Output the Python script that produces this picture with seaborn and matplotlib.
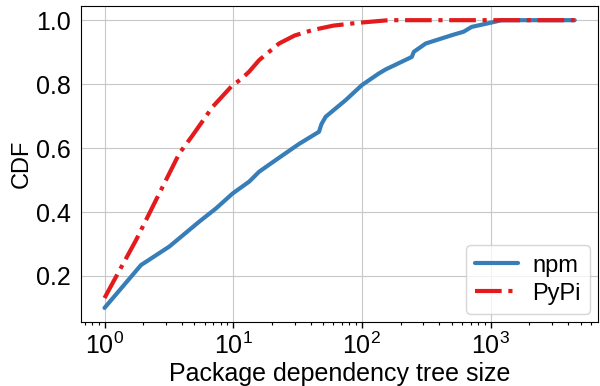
import matplotlib
matplotlib.use("Agg")
import matplotlib.pyplot as plt
import seaborn as sns
import pandas as pd

# npm dependency tree size CDF
npm_size = [1, 1.92, 3.19, 5.45, 7.34, 9.9, 13.3, 15.9, 21.4, 32.5, 46.4, 48.5, 52.3,
            74.8, 100, 135, 153, 244, 253, 313, 499, 617, 713, 1000, 1217, 2000, 4500]
npm_cdf = [0.10, 0.234, 0.292, 0.370, 0.411, 0.458, 0.495, 0.526, 0.5625, 0.613, 0.651,
           0.675, 0.698, 0.75, 0.797, 0.833, 0.846, 0.885, 0.901, 0.927, 0.953, 0.964,
           0.979, 0.992, 1.0, 1.0, 1.0]

# PyPi dependency tree size CDF
pypi_size = [1, 1.27, 1.76, 2.37, 3.19, 3.81, 4.84, 6.92, 9.9, 11.5, 13.3, 15.9, 22.7,
             30, 41.2, 60, 94.8, 162, 500, 1000, 4500]
pypi_cdf = [0.131, 0.208, 0.3125, 0.417, 0.521, 0.583, 0.64, 0.729, 0.797, 0.815, 0.839,
            0.875, 0.927, 0.952, 0.969, 0.983, 0.992, 1.0, 1.0, 1.0, 1.0]

npm_df = pd.DataFrame({"size": npm_size, "cdf": npm_cdf})
pypi_df = pd.DataFrame({"size": pypi_size, "cdf": pypi_cdf})

sns.set_style("whitegrid", {"axes.edgecolor": "black", "grid.color": "#c8c8c8",
                            "text.color": "black", "axes.labelcolor": "black",
                            "xtick.color": "black", "ytick.color": "black"})
plt.rcParams["font.family"] = ["Liberation Sans", "DejaVu Sans"]
plt.rcParams["mathtext.fontset"] = "custom"
plt.rcParams["mathtext.rm"] = "Liberation Sans"
plt.rcParams["mathtext.it"] = "Liberation Sans:italic"
plt.rcParams["mathtext.bf"] = "Liberation Sans:bold"

fig, ax = plt.subplots(figsize=(6, 3.86), dpi=100)
sns.lineplot(data=npm_df, x="size", y="cdf", ax=ax, color="#377eb8", lw=3, label="npm")
sns.lineplot(data=pypi_df, x="size", y="cdf", ax=ax, color="#e41a1c", lw=3,
             linestyle="-.", label="PyPi")
ax.set_xscale("log")
ax.set_xlabel("Package dependency tree size", fontsize=18, labelpad=2)
ax.set_ylabel("CDF", fontsize=17, labelpad=2)
ax.tick_params(labelsize=18)
ax.tick_params(axis="x", which="major", bottom=True, direction="out", length=4, width=1)
ax.tick_params(axis="x", which="minor", bottom=True, direction="out", length=2.5, width=0.8)
ax.tick_params(axis="y", left=False, pad=4)
ax.set_yticks([0.2, 0.4, 0.6, 0.8, 1.0])
ax.grid(True, which="major")
ax.grid(False, which="minor")
ax.legend(loc="lower right", fontsize=17, handlelength=1.8, handletextpad=0.6,
          borderpad=0.4, labelspacing=0.25, borderaxespad=0.35)
fig.subplots_adjust(left=0.135, right=0.997, top=0.985, bottom=0.165)
fig.savefig("out.png")
